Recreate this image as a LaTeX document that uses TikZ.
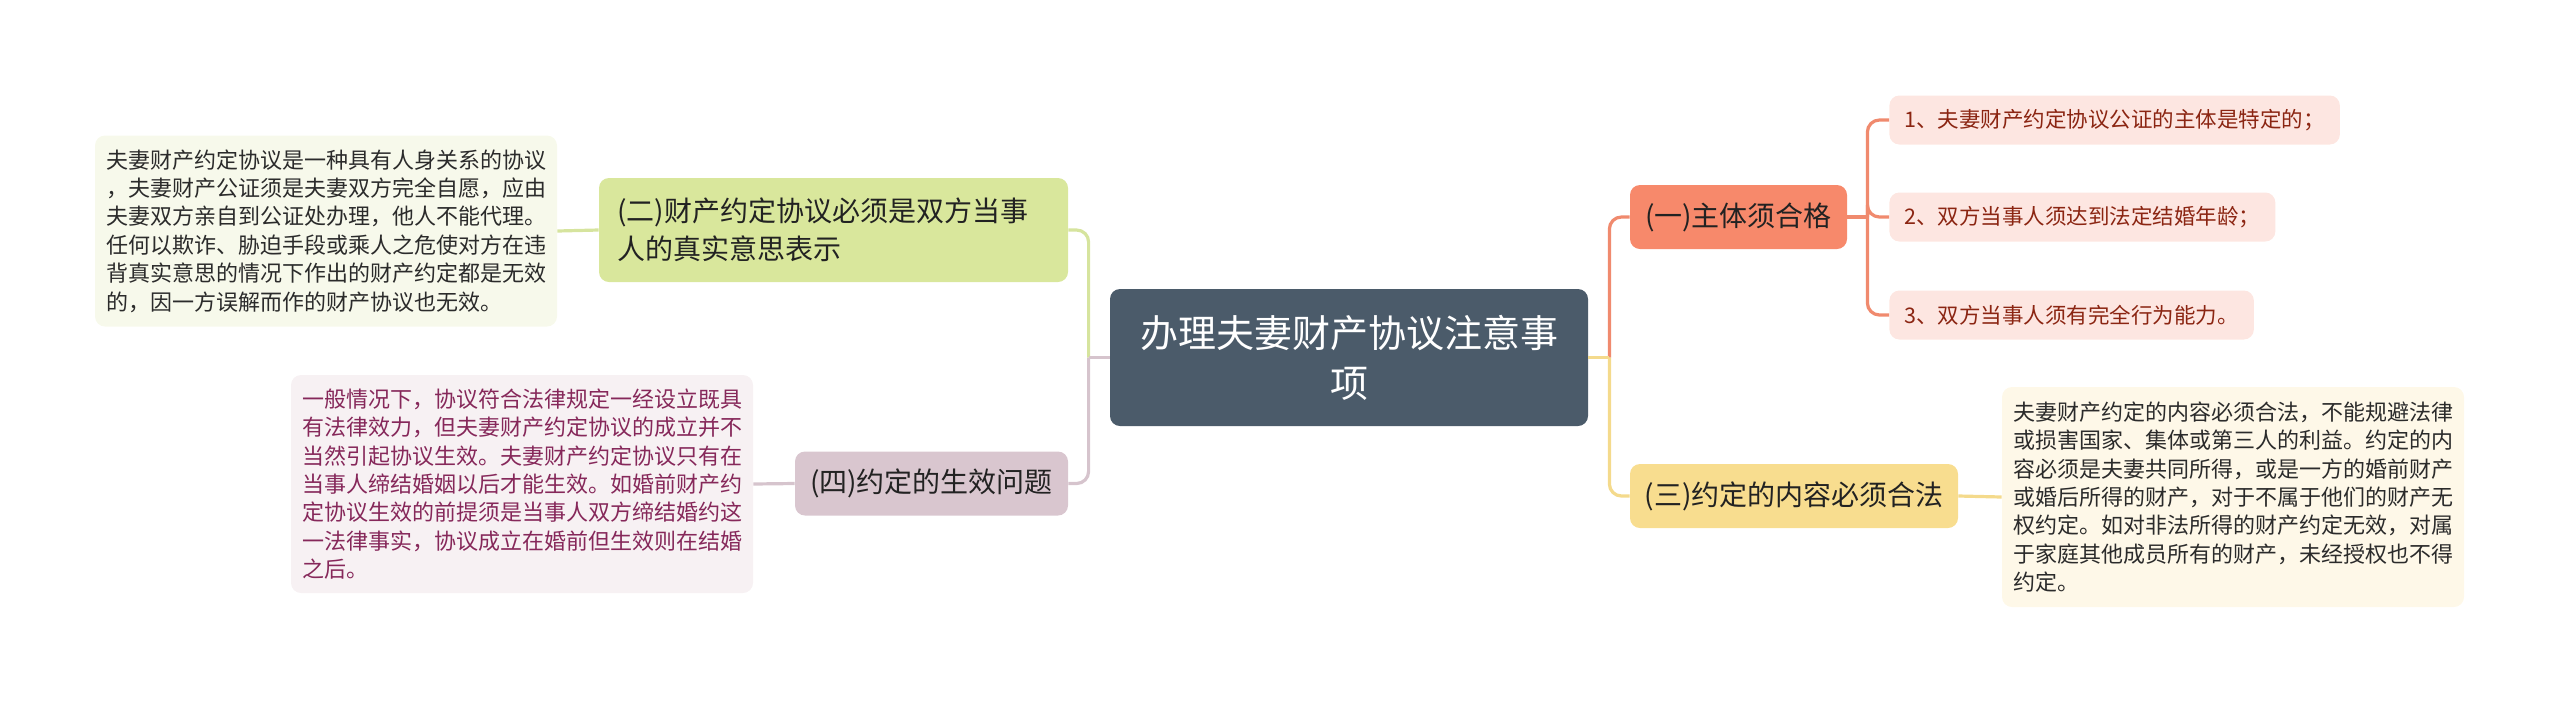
\documentclass[tikz,border=0pt]{standalone}
\usepackage{fontspec}
\setmainfont{Noto Sans CJK SC}
\usepackage{xcolor}
\usetikzlibrary{positioning}
\definecolor{rootfill}{HTML}{4B5B6A}
\definecolor{branchtext}{HTML}{222222}
\definecolor{leaftext}{HTML}{2B2B2B}
\definecolor{onefill}{HTML}{F7896B}
\definecolor{oneline}{HTML}{F08A6E}
\definecolor{itemfill}{HTML}{FDE6E1}
\definecolor{itemtext}{HTML}{8B2512}
\definecolor{twofill}{HTML}{D9E79C}
\definecolor{twoline}{HTML}{D6E49E}
\definecolor{twoleaf}{HTML}{F7F9EB}
\definecolor{threefill}{HTML}{F8DD8F}
\definecolor{threeline}{HTML}{F4DA8C}
\definecolor{threeleaf}{HTML}{FEF8E8}
\definecolor{fourfill}{HTML}{D9C6CF}
\definecolor{fourline}{HTML}{D6C4CD}
\definecolor{fourleaf}{HTML}{F7F1F3}
\definecolor{fourtext}{HTML}{86285A}
\tikzset{
    box/.style = {rectangle, rounded corners=5pt, inner sep=0pt, align=center},
    root_node/.style = {box, fill=rootfill, text=white, minimum width=239pt, minimum height=68.5pt, font=\fontsize{19}{25}\selectfont},
    branch/.style = {box, text=branchtext, minimum height=32pt, font=\fontsize{14}{19}\selectfont},
    item_node/.style = {box, anchor=west, fill=itemfill, text=itemtext, inner xsep=7.5pt, minimum height=24.5pt, font=\fontsize{10.75}{14}\selectfont},
    leaf/.style = {box, align=left, text=leaftext, minimum width=231pt, font=\fontsize{11}{14.2}\selectfont},
    link/.style = {line width=1.6pt, rounded corners=6pt}
}
\begin{document}
\begin{tikzpicture}[x=0.5pt, y=-0.5pt]
\useasboundingbox (0,0) rectangle (2560,703);
% centre
\node [root_node] (root) at (1349,357.5) {办理夫妻财产协议注意事\\项};
% right side
\node [branch, fill=onefill, minimum width=108.5pt] (b1) at (1738.5,217) {(一)主体须合格};
\node [item_node] (i1) at (1889,120) {1、夫妻财产约定协议公证的主体是特定的；};
\node [item_node] (i2) at (1889,217) {2、双方当事人须达到法定结婚年龄；};
\node [item_node] (i3) at (1889,315) {3、双方当事人须有完全行为能力。};
\node [branch, fill=threefill, minimum width=164pt] (b3) at (1794,496) {(三)约定的内容必须合法};
\node [leaf, fill=threeleaf, minimum height=110pt] (l3) at (2233,497) {夫妻财产约定的内容必须合法，不能规避法律\\或损害国家、集体或第三人的利益。约定的内\\容必须是夫妻共同所得，或是一方的婚前财产\\或婚后所得的财产，对于不属于他们的财产无\\权约定。如对非法所得的财产约定无效，对属\\于家庭其他成员所有的财产，未经授权也不得\\约定。};
% left side
\node [branch, fill=twofill, minimum width=234.5pt, minimum height=52pt, align=left, text width=216pt] (b2) at (833.5,230) {(二)财产约定协议必须是双方当事\\人的真实意思表示};
\node [leaf, fill=twoleaf, minimum height=95.5pt] (l2) at (326,231) {夫妻财产约定协议是一种具有人身关系的协议\\，夫妻财产公证须是夫妻双方完全自愿，应由\\夫妻双方亲自到公证处办理，他人不能代理。\\任何以欺诈、胁迫手段或乘人之危使对方在违\\背真实意思的情况下作出的财产约定都是无效\\的，因一方误解而作的财产协议也无效。};
\node [branch, fill=fourfill, minimum width=136.5pt] (b4) at (931.5,483.5) {(四)约定的生效问题};
\node [leaf, fill=fourleaf, text=fourtext, minimum height=109pt] (l4) at (522,484) {一般情况下，协议符合法律规定一经设立既具\\有法律效力，但夫妻财产约定协议的成立并不\\当然引起协议生效。夫妻财产约定协议只有在\\当事人缔结婚姻以后才能生效。如婚前财产约\\定协议生效的前提须是当事人双方缔结婚约这\\一法律事实，协议成立在婚前但生效则在结婚\\之后。};
% joints
\coordinate (rj) at ([xshift=10.5pt]root.east);
\coordinate (lj) at ([xshift=-10.5pt]root.west);
\coordinate (ij) at ([xshift=10pt]b1.east);
% links
\draw [link, draw=oneline] (root.east) -- (rj);
\draw [link, draw=oneline] (rj) |- (b1.west);
\draw [link, draw=threeline] (rj) |- (b3.west);
\draw [link, draw=threeline] (root.east) -- (rj);
\draw [link, draw=twoline] (root.west) -- (lj);
\draw [link, draw=twoline] (lj) |- (b2.east);
\draw [link, draw=fourline] (lj) |- (b4.east);
\draw [link, draw=fourline] (root.west) -- (lj);
\draw [link, draw=oneline] (b1.east) -- (ij);
\foreach \i in {1,2,3}
    \draw [link, draw=oneline] (ij) |- (i\i.west);
\draw [link, draw=threeline] (b3.east) -- (l3.west);
\draw [link, draw=twoline] (b2.west) -- (l2.east);
\draw [link, draw=fourline] (b4.west) -- (l4.east);
\end{tikzpicture}
\end{document}
